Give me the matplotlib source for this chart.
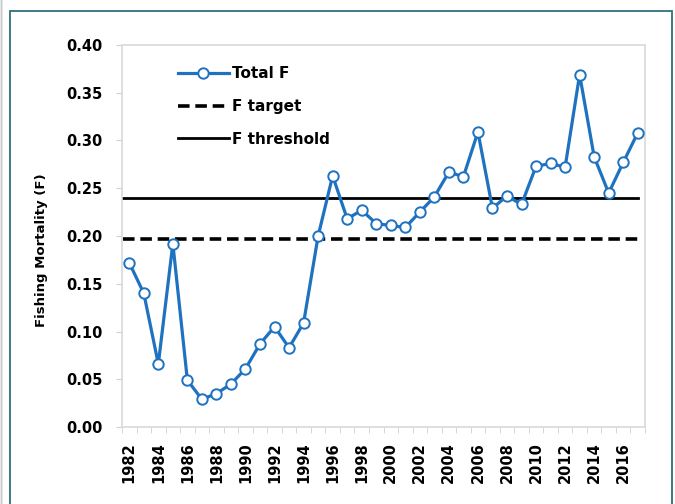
import matplotlib.pyplot as plt
from matplotlib.patches import Rectangle

plt.rcParams["font.family"] = ["DejaVu Sans"]
plt.rcParams["font.weight"] = "bold"

years = list(range(1982, 2018))
total_f = [0.172, 0.140, 0.066, 0.192, 0.049, 0.029, 0.035, 0.045, 0.061, 0.087,
           0.105, 0.083, 0.109, 0.200, 0.263, 0.218, 0.227, 0.213, 0.211, 0.209,
           0.225, 0.241, 0.267, 0.262, 0.309, 0.229, 0.242, 0.233, 0.273, 0.276,
           0.272, 0.369, 0.283, 0.245, 0.277, 0.308]
f_target = 0.197
f_threshold = 0.240

fig = plt.figure(figsize=(6.75, 5.04), dpi=100)
ax = fig.add_axes([122 / 675, 77 / 504, 523 / 675, 382 / 504])

# outer frame like the source figure
fig.patches.append(Rectangle((10 / 675, -0.05), 662 / 675, 1.05 - 11 / 504,
                             transform=fig.transFigure, fill=False,
                             edgecolor="#2f6f7d", linewidth=1.3))
fig.patches.append(Rectangle((1 / 675, -0.05), 0, 1.1, transform=fig.transFigure,
                             fill=False, edgecolor="#c8c8c8", linewidth=1.0))

ax.plot(years, total_f, color="#1f72c0", linewidth=2.3, marker="o",
        markersize=7.5, markerfacecolor="white", markeredgecolor="#1f72c0",
        markeredgewidth=1.4, label="Total F", zorder=3)
ax.plot([years[0] - 0.4, years[-1]], [f_target] * 2, color="black",
        linestyle=(0, (3.2, 1.6)), linewidth=2.6, label="F target")
ax.plot([years[0] - 0.4, years[-1]], [f_threshold] * 2, color="black",
        linewidth=2.0, label="F threshold")

ax.set_xlim(1981.5, 2017.5)
ax.set_ylim(0, 0.40)
ax.set_yticks([i * 0.05 for i in range(9)])
ax.set_yticklabels([f"{i * 0.05:.2f}" for i in range(9)])
ax.set_xticks(years[::2])
ax.set_xticklabels([str(y) for y in years[::2]], rotation=90)
ax.set_xticks([y - 0.5 for y in years] + [2017.5], minor=True)
ax.tick_params(axis="x", which="major", length=0, pad=11, labelsize=10.5)
ax.tick_params(axis="x", which="minor", length=4, color="#d0d0d0")
ax.tick_params(axis="y", length=4, color="#d0d0d0", pad=10, labelsize=10.5)
ax.set_ylabel("Fishing Mortality (F)", fontsize=9.5, fontweight="bold")
ax.yaxis.set_label_coords(-0.142, 0.463)

for s in ax.spines.values():
    s.set_color("#d9d9d9")
    s.set_linewidth(1.2)

ax.legend(loc="upper left", bbox_to_anchor=(0.087, 0.972), frameon=False,
          handlelength=3.3, handletextpad=0.2, labelspacing=1.15,
          borderaxespad=0.3, prop={"weight": "bold", "size": 11})

fig.savefig("out.png", dpi=100)
